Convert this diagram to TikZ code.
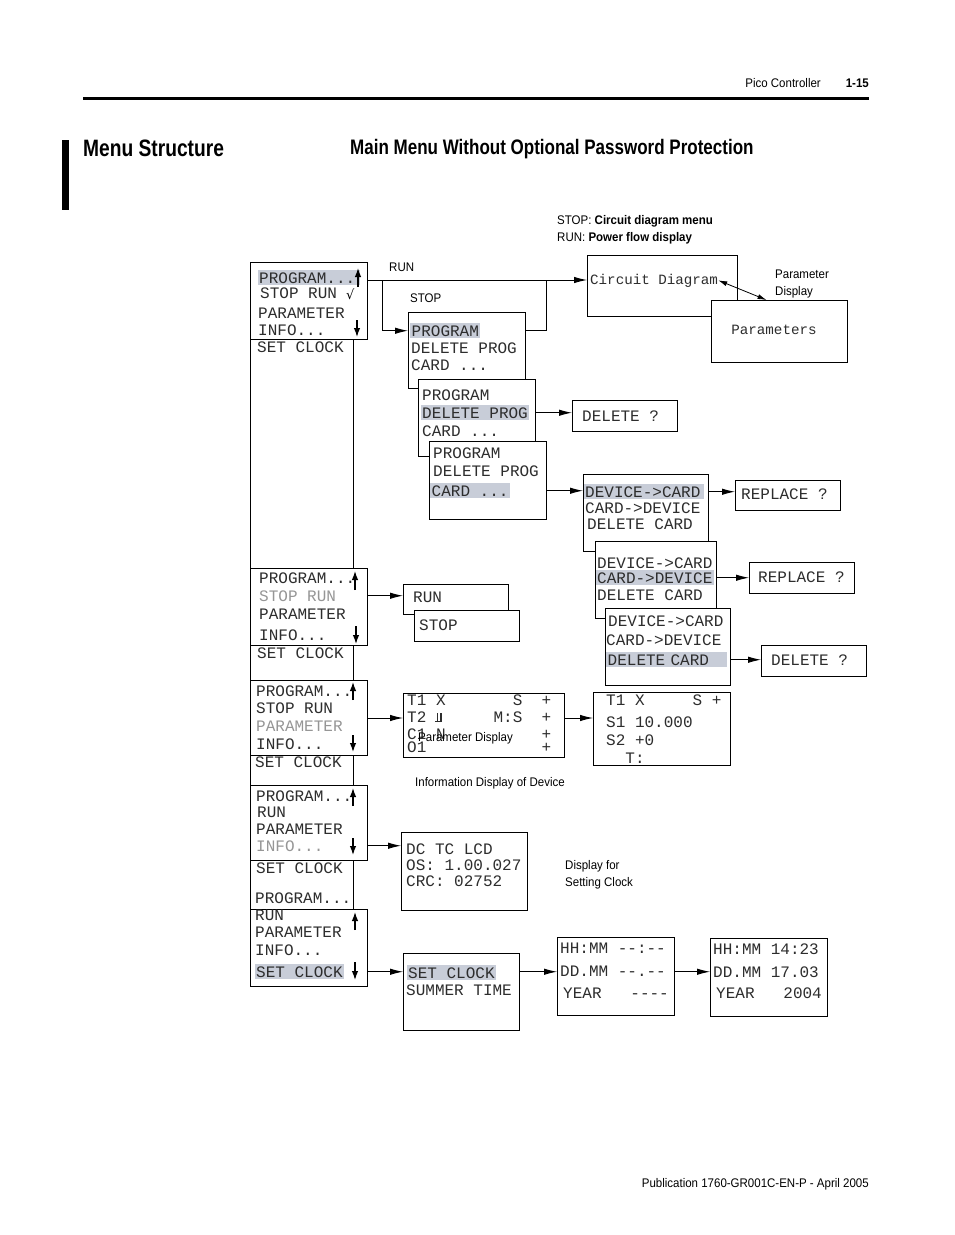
\documentclass[tikz,border=0pt]{standalone}
\usepackage{fontspec}
\setmainfont{Liberation Sans}
\setmonofont{Liberation Mono}
\newfontfamily\condfont[FakeStretch=0.92]{Liberation Sans}
\newfontfamily\headfont[FakeStretch=0.81]{Liberation Sans}
\newfontfamily\symfont{DejaVu Sans}
\usetikzlibrary{arrows.meta}

\definecolor{hlgray}{RGB}{200,205,216}
\definecolor{dimtext}{RGB}{150,150,150}
\definecolor{lcdink}{RGB}{45,45,45}

\newcommand\lcdfont{\ttfamily\fontsize{16}{18}\selectfont}
\newcommand\lcdsmall{\ttfamily\fontsize{14.2}{16}\selectfont}
\newcommand\labfont{\condfont\fontsize{12.5}{15}\selectfont}
% LCD symbol in the T2 line
\newcommand\barsym{\makebox[0.6em][l]{\hspace{1pt}\rule{1.2pt}{9pt}\hspace{2.2pt}\rule{1.2pt}{9pt}\llap{\rule{6.6pt}{0.8pt}}}}

\begin{document}
\begin{tikzpicture}[x=1pt,y=-1pt,
  box/.style={draw, fill=white, line width=0.9pt, anchor=north west, inner sep=0pt},
  lcd/.style={anchor=base west, inner sep=0pt, font=\lcdfont, text=lcdink},
  hl/.style={lcd, fill=hlgray, inner xsep=1.5pt, inner ysep=2pt},
  dim/.style={lcd, text=dimtext},
  lab/.style={anchor=base west, inner sep=0pt, font=\labfont},
  arr/.style={-{Latex[length=13pt,width=6.5pt]}, line width=0.9pt},
  scroll/.style={-{Latex[length=9pt,width=6.5pt]}, line width=1.3pt}]

\useasboundingbox[fill=white] (0,0) rectangle (954,1235);

% page header
\draw[line width=3pt] (83,98) -- (869,98);
\node[lab, anchor=base east] (hdr) at (821,87) {Pico Controller};
\node[lab, anchor=base east, font=\labfont\bfseries] (pg) at (869,87) {1-15};
\fill (62,140) rectangle (69,210);
\node[anchor=base west, inner sep=0pt, font=\headfont\bfseries\fontsize{23.7}{26}\selectfont] (ttl) at (83,156) {Menu Structure};
\node[anchor=base west, inner sep=0pt, font=\headfont\bfseries\fontsize{21}{24}\selectfont] (sub) at (350,154) {Main Menu Without Optional Password Protection};

% left column
\node[box, minimum width=103pt, minimum height=229pt] (c1) at (250,339) {};
\node[box, minimum width=103pt, minimum height=35pt] (c2) at (250,645) {};
\node[box, minimum width=103pt, minimum height=30pt] (c3) at (250,755) {};
\node[box, minimum width=103pt, minimum height=49pt] (c4) at (250,860) {};
\node[box, minimum width=117pt, minimum height=77pt] (a1) at (250,262) {};
\node[box, minimum width=117pt, minimum height=77pt] (a2) at (250,568) {};
\node[box, minimum width=117pt, minimum height=75pt] (a3) at (250,680) {};
\node[box, minimum width=117pt, minimum height=75pt] (a4) at (250,785) {};
\node[box, minimum width=117pt, minimum height=77pt] (a5) at (250,909) {};

\node[hl, text width=99pt] (a1prog) at (257.5,283) {PROGRAM...};
\node[lcd] (a1stop) at (260,298) {STOP RUN};
\node[anchor=base west, inner sep=0pt, font=\symfont\fontsize{13}{14}\selectfont] (a1chk) at (346,299) {√};
\node[lcd] (a1par) at (258,318) {PARAMETER};
\node[lcd] (a1info) at (258,335) {INFO...};
\node[lcd] (c1set) at (257,352) {SET CLOCK};

\node[lcd] (a2prog) at (259,583) {PROGRAM...};
\node[dim] (a2stop) at (259,601) {STOP RUN};
\node[lcd] (a2par) at (259,619) {PARAMETER};
\node[lcd] (a2info) at (259,640) {INFO...};
\node[lcd] (c2set) at (257,658) {SET CLOCK};

\node[lcd] (a3prog) at (256,696) {PROGRAM...};
\node[lcd] (a3stop) at (256,713) {STOP RUN};
\node[dim] (a3par) at (256,731) {PARAMETER};
\node[lcd] (a3info) at (256,749) {INFO...};
\node[lcd] (c3set) at (255,767) {SET CLOCK};

\node[lcd] (a4prog) at (256,801) {PROGRAM...};
\node[lcd] (a4run) at (257,817) {RUN};
\node[lcd] (a4par) at (256,834) {PARAMETER};
\node[dim] (a4info) at (256,851) {INFO...};
\node[lcd] (c4set) at (256,873) {SET CLOCK};
\node[lcd] (c4prog) at (255,903) {PROGRAM...};

\node[lcd] (a5run) at (255,920) {RUN};
\node[lcd] (a5par) at (255,937) {PARAMETER};
\node[lcd] (a5info) at (255,955) {INFO...};
\node[hl] (a5set) at (254.5,977) {SET CLOCK};

% scroll arrows
\draw[scroll] (358,287) -- (358,268);
\draw[scroll] (357,320) -- (357,337);
\draw[scroll] (355,590) -- (355,571);
\draw[scroll] (356,626) -- (356,644);
\draw[scroll] (353,700) -- (353,682);
\draw[scroll] (353,735) -- (353,752);
\draw[scroll] (353,806) -- (353,788);
\draw[scroll] (353,838) -- (353,855);
\draw[scroll] (355,930) -- (355,912);
\draw[scroll] (355,962) -- (355,980);

% STOP / RUN branch
\node[anchor=base west, inner sep=0pt, font=\labfont] (note1) at (557,224) {STOP: \textbf{Circuit diagram menu}};
\node[anchor=base west, inner sep=0pt, font=\labfont] (note2) at (557,241) {RUN: \textbf{Power flow display}};
\node[lab] (runlab) at (389,271) {RUN};
\node[lab] (stoplab) at (410,302) {STOP};

\node[box, line width=1.1pt, minimum width=150pt, minimum height=61pt] (circ) at (587,255) {};
\node[anchor=base west, inner sep=0pt, font=\lcdsmall, text=lcdink] (circtxt) at (590,284) {Circuit Diagram};
\node[box, line width=1.1pt, minimum width=136pt, minimum height=62pt] (par) at (711,300) {};
\node[anchor=base, inner sep=0pt, font=\lcdsmall, text=lcdink] (partxt) at (774,334) {Parameters};
\draw[{Latex[length=9pt,width=5pt]}-{Latex[length=9pt,width=5pt]}, line width=0.8pt] (circtxt.east) -- ([xshift=-13pt]par.north);
\node[lab] (pd1) at (775,278) {Parameter};
\node[lab] (pd2) at (775,295) {Display};

\node[box, minimum width=117pt, minimum height=76pt] (p1) at (408,312) {};
\node[box, minimum width=117pt, minimum height=77pt] (p2) at (418,379) {};
\node[box, minimum width=117pt, minimum height=78pt] (p3) at (429,441) {};
\node[hl] (p1prog) at (410,336) {PROGRAM};
\node[lcd] (p1del) at (411,353) {DELETE PROG};
\node[lcd] (p1card) at (411,370) {CARD ...};
\node[lcd] (p2prog) at (422,400) {PROGRAM};
\node[hl] (p2del) at (420.5,418) {DELETE PROG};
\node[lcd] (p2card) at (422,436) {CARD ...};
\node[lcd] (p3prog) at (433,458) {PROGRAM};
\node[lcd] (p3del) at (433,476) {DELETE PROG};
\node[hl] (p3card) at (430,496) {CARD ...};

\coordinate (runsplit) at (382,280);
\coordinate (stopjoin) at (546,280);
\draw[arr] (a1.east |- runsplit) -- (circ.west |- runsplit);
\draw[arr] (runsplit) |- (p1.west |- p1prog);
\draw[line width=0.9pt] (p1.east |- p1prog) -| (stopjoin);

\node[box, minimum width=105pt, minimum height=31pt] (del1) at (572,400) {};
\node[lcd] (del1txt) at (582,421) {DELETE ?};
\draw[arr] (p2.east |- p2del) -- (del1.west |- p2del);

% card menu
\node[box, minimum width=125pt, minimum height=77pt] (d1) at (583,474) {};
\node[box, minimum width=121pt, minimum height=77pt] (d2) at (595,541) {};
\node[box, minimum width=125pt, minimum height=77pt] (d3) at (605,608) {};
\node[hl, text width=117pt] (d1dev) at (583.5,497) {DEVICE->CARD};
\node[lcd] (d1card) at (585,513) {CARD->DEVICE};
\node[lcd] (d1del) at (587,529) {DELETE CARD};
\node[lcd] (d2dev) at (597,568) {DEVICE->CARD};
\node[hl] (d2card) at (595.5,583) {CARD->DEVICE};
\node[lcd] (d2del) at (597,600) {DELETE CARD};
\node[lcd] (d3dev) at (608,626) {DEVICE->CARD};
\node[lcd] (d3card) at (606,645) {CARD->DEVICE};
\node[hl, text width=118pt] (d3del) at (606,665) {DELETE CARD};
\draw[arr] (p3.east |- p3card) -- (d1.west |- p3card);

\node[box, minimum width=105pt, minimum height=30pt] (rep1) at (735,480) {};
\node[lcd] (rep1txt) at (741,499) {REPLACE ?};
\node[box, minimum width=105pt, minimum height=31pt] (rep2) at (749,562) {};
\node[lcd] (rep2txt) at (758,582) {REPLACE ?};
\node[box, minimum width=105pt, minimum height=31pt] (del2) at (761,645) {};
\node[lcd] (del2txt) at (771,665) {DELETE ?};
\draw[arr] (d1.east |- d1dev) -- (rep1.west |- d1dev);
\draw[arr] (d2.east |- d2card) -- (rep2.west |- d2card);
\draw[arr] (d3.east |- d3del) -- (del2.west |- d3del);

% STOP RUN
\node[box, minimum width=105pt, minimum height=30pt] (runb) at (403,584) {};
\node[box, minimum width=105pt, minimum height=31pt] (stopb) at (414,610) {};
\node[lcd] (runtxt) at (413,602) {RUN};
\node[lcd] (stoptxt) at (419,630) {STOP};
\draw[arr] (a2.east |- a2stop) -- (runb.west |- a2stop);

% PARAMETER
\coordinate (row3) at (0,718);
\node[box, minimum width=161pt, minimum height=64pt] (i1) at (403,693) {};
\node[lcd] (i1a) at (407,705) {T1~X~~~~~~~S~~+};
\node[lcd] (i1b) at (407,722) {T2~\barsym~~~~~M:S~~+};
\node[lcd] (i1c) at (407,739) {C1~N~~~~~~~~~~+};
\node[lcd] (i1d) at (407,752) {O1~~~~~~~~~~~~+};
\node[lab] (pdlab) at (418,741) {Parameter Display};
\node[box, minimum width=137pt, minimum height=73pt] (i2) at (593,692) {};
\node[lcd] (i2a) at (606,705) {T1~X~~~~~S~+};
\node[lcd] (i2b) at (606,727) {S1~10.000};
\node[lcd] (i2c) at (606,745) {S2~+0};
\node[lcd] (i2d) at (606,763) {~~T:};
\draw[arr] (a3.east |- row3) -- (i1.west |- row3);
\draw[arr] (i1.east |- row3) -- (i2.west |- row3);
\node[lab] (infolab) at (415,786) {Information Display of Device};

% INFO
\node[box, minimum width=126pt, minimum height=78pt] (i3) at (401,832) {};
\node[lcd] (i3a) at (406,854) {DC~TC~LCD};
\node[lcd] (i3b) at (406,870) {OS:~1.00.027};
\node[lcd] (i3c) at (406,886) {CRC:~02752};
\draw[arr] (a4.east |- a4info) -- (i3.west |- a4info);
\node[lab] (clk1) at (565,869) {Display for};
\node[lab] (clk2) at (565,886) {Setting Clock};

% SET CLOCK
\node[box, minimum width=116pt, minimum height=77pt] (s1) at (403,953) {};
\node[hl] (s1set) at (406.5,978) {SET CLOCK};
\node[lcd] (s1sum) at (406,995) {SUMMER TIME};
\node[box, minimum width=117pt, minimum height=78pt] (t1) at (557,937) {};
\node[lcd] (t1a) at (560,953) {HH:MM~--:--};
\node[lcd] (t1b) at (560,976) {DD.MM~--.--};
\node[lcd] (t1c) at (563,998) {YEAR~~~----};
\node[box, minimum width=117pt, minimum height=78pt] (t2) at (710,938) {};
\node[lcd] (t2a) at (713,954) {HH:MM~14:23};
\node[lcd] (t2b) at (713,977) {DD.MM~17.03};
\node[lcd] (t2c) at (716,998) {YEAR~~~2004};
\draw[arr] (a5.east |- a5set) -- (s1.west |- a5set);
\draw[arr] (s1.east |- a5set) -- (t1.west |- a5set);
\draw[arr] (t1.east |- a5set) -- (t2.west |- a5set);

% footer
\node[lab, anchor=base east] (foot) at (869,1187) {Publication 1760-GR001C-EN-P - April 2005};

\end{tikzpicture}
\end{document}
